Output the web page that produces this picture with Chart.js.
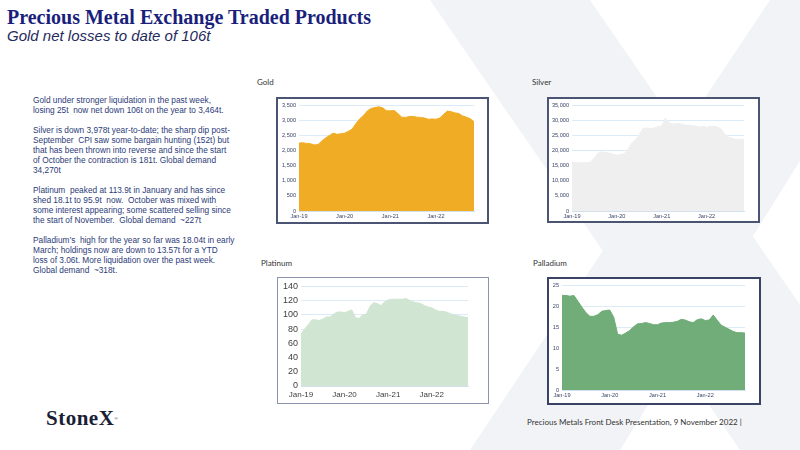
<!DOCTYPE html>
<html>
<head>
<meta charset="utf-8">
<script src="https://cdn.jsdelivr.net/npm/chart.js@4.4.0/dist/chart.umd.min.js"></script>
<style>
  html, body { margin: 0; padding: 0; }
  body { width: 800px; height: 450px; position: relative; overflow: hidden; background: #fff; font-family: 'Liberation Sans', Arial, sans-serif; }
  .abs { position: absolute; white-space: pre; }
  .box { position: absolute; box-sizing: border-box; background: #fff; }
  .box canvas { display: block; }
  .lbl { position: absolute; font-family: Lato, sans-serif; font-size: 8px; line-height: 8px; color: #333; }
</style>
</head>
<body>
<svg class="abs" style="left:0;top:0" width="800" height="450">
  <polygon points="430,0 590,0 900,450 740,450" fill="#f2f3f6" />
  <polygon points="770,0 900,0 620,450 470,450" fill="#f2f3f6" />
</svg>

<div class="abs" style="left:7px;top:7px;font-family:'Liberation Serif',serif;font-weight:bold;font-size:20px;line-height:20px;color:#1b1f7c">Precious Metal Exchange Traded Products</div>
<div class="abs" style="left:7px;top:28.3px;font-style:italic;font-size:15px;line-height:15px;color:#1f2b5c">Gold net losses to date of 106t</div>

<div class="abs" style="left:33px;top:94.7px;font-size:8.3px;line-height:10px;color:#2c3b78">Gold under stronger liquidation in the past week,
losing 25t  now net down 106t on the year to 3,464t.

Silver is down 3,978t year-to-date; the sharp dip post-
September  CPI saw some bargain hunting (152t) but
that has been thrown into reverse and since the start
of October the contraction is 181t. Global demand
34,270t

Platinum  peaked at 113.9t in January and has since
shed 18.1t to 95.9t  now.  October was mixed with
some interest appearing; some scattered selling since
the start of November.  Global demand  ~227t

Palladium’s  high for the year so far was 18.04t in early
March; holdings now are down to 13.57t for a YTD
loss of 3.06t. More liquidation over the past week.
Global demand  ~318t.</div>

<div class="lbl" style="left:257px;top:77.7px">Gold</div>
<div class="lbl" style="left:532px;top:77.7px">Silver</div>
<div class="lbl" style="left:261px;top:258.7px">Platinum</div>
<div class="lbl" style="left:533px;top:259.3px">Palladium</div>

<div class="box" style="left:276px;top:97px;width:213px;height:127px;border:2px solid #4b5472"><canvas id="gold" width="209" height="123"></canvas></div>
<div class="box" style="left:547px;top:97px;width:213px;height:126px;border:2px solid #4b5472"><canvas id="silver" width="209" height="122"></canvas></div>
<div class="box" style="left:277px;top:277px;width:212px;height:127px;border:1px solid #8b93ad"><canvas id="platinum" width="210" height="125"></canvas></div>
<div class="box" style="left:547px;top:277px;width:214px;height:128px;border:2px solid #3a4266"><canvas id="palladium" width="210" height="124"></canvas></div>

<div class="abs" style="left:46px;top:408px;font-family:'Liberation Serif',serif;font-weight:bold;font-size:21px;line-height:21px;letter-spacing:0.5px;color:#1a1f36">StoneX<span style="font-size:5px;vertical-align:top;font-weight:normal">®</span></div>
<div class="lbl" style="left:527px;top:418.3px;white-space:pre">Precious Metals Front Desk Presentation, 9 November 2022 |</div>

<script>
const months = [
  'Jan-19', 'Feb-19', 'Mar-19', 'Apr-19', 'May-19', 'Jun-19', 'Jul-19', 'Aug-19', 'Sep-19', 'Oct-19', 'Nov-19', 'Dec-19',
  'Jan-20', 'Feb-20', 'Mar-20', 'Apr-20', 'May-20', 'Jun-20', 'Jul-20', 'Aug-20', 'Sep-20', 'Oct-20', 'Nov-20', 'Dec-20',
  'Jan-21', 'Feb-21', 'Mar-21', 'Apr-21', 'May-21', 'Jun-21', 'Jul-21', 'Aug-21', 'Sep-21', 'Oct-21', 'Nov-21', 'Dec-21',
  'Jan-22', 'Feb-22', 'Mar-22', 'Apr-22', 'May-22', 'Jun-22', 'Jul-22', 'Aug-22', 'Sep-22', 'Oct-22', 'Nov-22'
]
// holdings in tonnes
const goldTonnes = [
  2250, 2260, 2240, 2230, 2190, 2200, 2320, 2420, 2500, 2580, 2540, 2560,
  2580, 2640, 2720, 2900, 3060, 3170, 3320, 3400, 3430, 3450, 3420, 3320,
  3320, 3330, 3230, 3110, 3100, 3130, 3130, 3110, 3100, 3080, 3040, 3050,
  3040, 3080, 3200, 3310, 3290, 3250, 3230, 3150, 3110, 3060, 2950
]
const silverTonnes = [
  16100, 16000, 16000, 16000, 16000, 16200, 17600, 19200, 19600, 19400, 19200, 18800,
  18500, 18700, 19000, 20500, 22600, 23600, 25400, 27300, 27500, 27300, 27500, 28000,
  28200, 30800, 29200, 28800, 29000, 28900, 28500, 28400, 28300, 28100, 27800, 28000,
  27700, 28100, 28000, 27800, 27000, 25300, 24400, 24000, 23600, 23800, 23700
]
const platinumTonnes = [
  73, 80, 86, 93, 93, 92, 94, 97, 97, 101, 104, 104,
  103, 105, 107, 96, 95, 100, 101, 112, 117, 116, 113, 118,
  121, 122, 122, 122, 122, 123, 120, 118, 117, 116, 113, 111,
  110, 107, 105, 105, 104, 102, 100, 99, 98, 97, 96
]
const palladiumTonnes = [
  22.6, 22.6, 22.4, 22.6, 21.2, 19.8, 18.5, 17.6, 17.6, 18.0, 18.8, 19.0,
  19.1, 17.4, 13.3, 13.1, 13.6, 14.2, 15.1, 15.8, 15.9, 16.1, 15.9, 15.6,
  15.6, 16.0, 16.1, 16.1, 16.2, 16.4, 16.9, 16.7, 16.3, 16.1, 16.8, 17.0,
  16.6, 16.7, 17.9, 16.7, 15.5, 15.0, 14.5, 14.0, 13.7, 13.7, 13.6
]

Chart.defaults.font.family = "'Liberation Sans', Arial, sans-serif"

const makeChart = (id, values, o) => {
  const ctx = document.getElementById(id).getContext('2d')
  return new Chart(ctx, {
    type: 'line',
    data: {
      labels: months,
      datasets: [{
        data: values,
        fill: 'origin',
        backgroundColor: o.color,
        borderColor: o.color,
        borderWidth: 1,
        pointRadius: 0,
        tension: 0
      }]
    },
    options: {
      responsive: false,
      animation: false,
      layout: { padding: { top: o.padTop, right: o.padRight, left: 0, bottom: 0 } },
      plugins: { legend: { display: false }, tooltip: { enabled: false } },
      scales: {
        x: {
          grid: { display: false, drawTicks: false },
          border: { color: '#d3e0ee' },
          ticks: {
            autoSkip: false,
            maxRotation: 0,
            minRotation: 0,
            padding: o.xPad,
            color: o.tickColor,
            font: { size: o.xFont },
            callback: function (v) {
              const l = this.getLabelForValue(v)
              return l.startsWith('Jan') ? l : ''
            }
          },
          afterFit: a => { a.height = o.xHeight }
        },
        y: {
          min: 0,
          max: o.max,
          grid: { color: '#dcebf8', drawTicks: false },
          border: { display: false },
          ticks: { stepSize: o.step, padding: 3, color: o.tickColor, font: { size: o.yFont } },
          afterFit: a => { a.width = o.yWidth }
        }
      }
    }
  })
}

makeChart('gold', goldTonnes, { color: '#f0ac24', max: 3500, step: 500, yWidth: 21, xHeight: 11, xPad: 2, padTop: 5, padRight: 13, xFont: 5.6, yFont: 5.6, tickColor: '#3a4668' })
makeChart('silver', silverTonnes, { color: '#efefef', max: 35000, step: 5000, yWidth: 23, xHeight: 10, xPad: 2, padTop: 4, padRight: 14, xFont: 5.6, yFont: 5.6, tickColor: '#3a4668' })
makeChart('platinum', platinumTonnes, { color: '#d0e5d2', max: 140, step: 20, yWidth: 23, xHeight: 17, xPad: 4, padTop: 8, padRight: 20, xFont: 8, yFont: 9, tickColor: '#404040' })
makeChart('palladium', palladiumTonnes, { color: '#70ad78', max: 25, step: 5, yWidth: 13, xHeight: 13, xPad: 2, padTop: 5, padRight: 14, xFont: 5.6, yFont: 5.6, tickColor: '#3a4668' })
</script>
</body>
</html>
